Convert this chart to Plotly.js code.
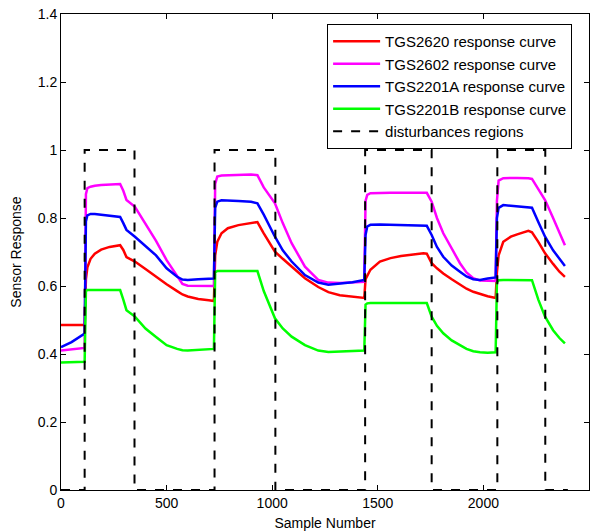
<!DOCTYPE html>
<html>
<head>
<meta charset="utf-8">
<script src="https://cdn.plot.ly/plotly-3.0.1.min.js"></script>
<style>html,body{margin:0;padding:0;background:#fff}#chart{width:603px;height:531px}</style>
</head>
<body>
<div id="chart"></div>
<script>
const samples = [0, 50, 112, 118, 125, 140, 160, 190, 230, 280, 295, 310, 350, 400, 450, 500, 550, 575, 600, 650, 700, 724, 730, 740, 760, 790, 840, 900, 930, 960, 1013, 1050, 1092, 1155, 1218, 1266, 1320, 1380, 1436, 1442, 1450, 1465, 1510, 1560, 1610, 1660, 1716, 1732, 1755, 1780, 1810, 1850, 1889, 1920, 1952, 1984, 2020, 2058, 2064, 2072, 2094, 2130, 2160, 2213, 2230, 2260, 2292, 2330, 2360, 2386];

const tgs2620 = [0.485, 0.485, 0.485, 0.62, 0.655, 0.68, 0.695, 0.707, 0.715, 0.72, 0.706, 0.685, 0.672, 0.65, 0.627, 0.605, 0.585, 0.575, 0.569, 0.562, 0.558, 0.556, 0.69, 0.73, 0.755, 0.77, 0.779, 0.785, 0.788, 0.755, 0.701, 0.68, 0.657, 0.623, 0.597, 0.582, 0.573, 0.568, 0.565, 0.62, 0.63, 0.648, 0.672, 0.682, 0.688, 0.692, 0.696, 0.695, 0.667, 0.652, 0.637, 0.62, 0.603, 0.592, 0.583, 0.576, 0.57, 0.565, 0.64, 0.69, 0.73, 0.745, 0.752, 0.762, 0.758, 0.73, 0.696, 0.665, 0.642, 0.627];

const tgs2602 = [0.41, 0.413, 0.418, 0.87, 0.888, 0.892, 0.895, 0.897, 0.898, 0.9, 0.88, 0.853, 0.833, 0.782, 0.733, 0.676, 0.627, 0.606, 0.601, 0.6, 0.6, 0.6, 0.9, 0.922, 0.925, 0.926, 0.928, 0.928, 0.926, 0.89, 0.843, 0.785, 0.726, 0.657, 0.618, 0.61, 0.609, 0.61, 0.612, 0.85, 0.868, 0.873, 0.874, 0.874, 0.874, 0.874, 0.875, 0.874, 0.848, 0.8, 0.755, 0.71, 0.667, 0.64, 0.623, 0.616, 0.615, 0.615, 0.85, 0.91, 0.917, 0.918, 0.918, 0.917, 0.915, 0.885, 0.853, 0.8, 0.755, 0.72];

const tgs2201a = [0.42, 0.435, 0.46, 0.79, 0.808, 0.812, 0.812, 0.81, 0.808, 0.803, 0.785, 0.765, 0.745, 0.717, 0.69, 0.652, 0.627, 0.619, 0.618, 0.62, 0.622, 0.622, 0.83, 0.848, 0.852, 0.852, 0.85, 0.848, 0.843, 0.81, 0.745, 0.705, 0.672, 0.632, 0.61, 0.604, 0.607, 0.611, 0.618, 0.75, 0.775, 0.78, 0.781, 0.78, 0.78, 0.779, 0.779, 0.777, 0.75, 0.715, 0.686, 0.66, 0.642, 0.628, 0.62, 0.618, 0.622, 0.625, 0.8, 0.83, 0.838, 0.836, 0.834, 0.832, 0.83, 0.788, 0.745, 0.705, 0.68, 0.659];

const tgs2201b = [0.375, 0.375, 0.377, 0.585, 0.588, 0.588, 0.588, 0.588, 0.588, 0.588, 0.56, 0.529, 0.51, 0.475, 0.45, 0.426, 0.415, 0.411, 0.41, 0.412, 0.414, 0.415, 0.64, 0.644, 0.644, 0.644, 0.644, 0.644, 0.644, 0.585, 0.505, 0.475, 0.451, 0.426, 0.41, 0.406, 0.407, 0.408, 0.41, 0.545, 0.549, 0.55, 0.55, 0.551, 0.551, 0.552, 0.552, 0.55, 0.51, 0.483, 0.461, 0.44, 0.426, 0.415, 0.408, 0.405, 0.404, 0.405, 0.61, 0.617, 0.618, 0.618, 0.618, 0.618, 0.617, 0.56, 0.51, 0.47, 0.447, 0.431];

const distX = [0, 112, 112, 348, 348, 727, 727, 1015, 1015, 1440, 1440, 1755, 1755, 2066, 2066, 2293, 2293, 2400];
const distY = [0, 0, 1, 1, 0, 0, 1, 1, 0, 0, 1, 1, 0, 0, 1, 1, 0, 0];

const names = ['TGS2620 response curve', 'TGS2602 response curve', 'TGS2201A response curve', 'TGS2201B response curve', 'disturbances regions'];
const colors = ['#ff0000', '#ff00ff', '#0000ff', '#00ff00'];
const series = [tgs2620, tgs2602, tgs2201a, tgs2201b];

const FONT = 'Arial, "Liberation Sans", sans-serif';

const traces = series.map((s, i) => ({
  x: samples, y: s, type: 'scatter', mode: 'lines', name: names[i],
  line: {color: colors[i], width: 2.5}
}));
traces.push({x: distX, y: distY, type: 'scatter', mode: 'lines', name: names[4],
  line: {color: '#000000', width: 2, dash: 'dash'}});

const axisCommon = {
  showline: true, linecolor: '#000', linewidth: 1, mirror: 'allticks',
  ticks: 'inside', ticklen: 5, tickcolor: '#000', showgrid: false, zeroline: false,
  tickfont: {family: FONT, size: 14, color: '#000'}
};

const layout = {
  width: 603, height: 531,
  margin: {l: 61, r: 14, t: 14, b: 41},
  paper_bgcolor: '#fff', plot_bgcolor: '#fff',
  showlegend: true,
  xaxis: Object.assign({}, axisCommon, {range: [0, 2500], tick0: 0, dtick: 500, automargin: false,
    title: {text: 'Sample Number', standoff: 8, font: {family: FONT, size: 14, color: '#000'}}}),
  yaxis: Object.assign({}, axisCommon, {range: [0, 1.4], tick0: 0, dtick: 0.2, automargin: false,
    title: {text: 'Sensor Response', standoff: 12, font: {family: FONT, size: 14, color: '#000'}}}),
  legend: {x: 0.504, y: 0.979, xanchor: 'left', yanchor: 'top', bgcolor: '#fff',
    bordercolor: '#000', borderwidth: 1, itemwidth: 47, tracegroupgap: 0,
    font: {family: FONT, size: 15, color: '#000'}}
};

Plotly.newPlot('chart', traces, layout, {displayModeBar: false, staticPlot: true});
</script>
</body>
</html>
